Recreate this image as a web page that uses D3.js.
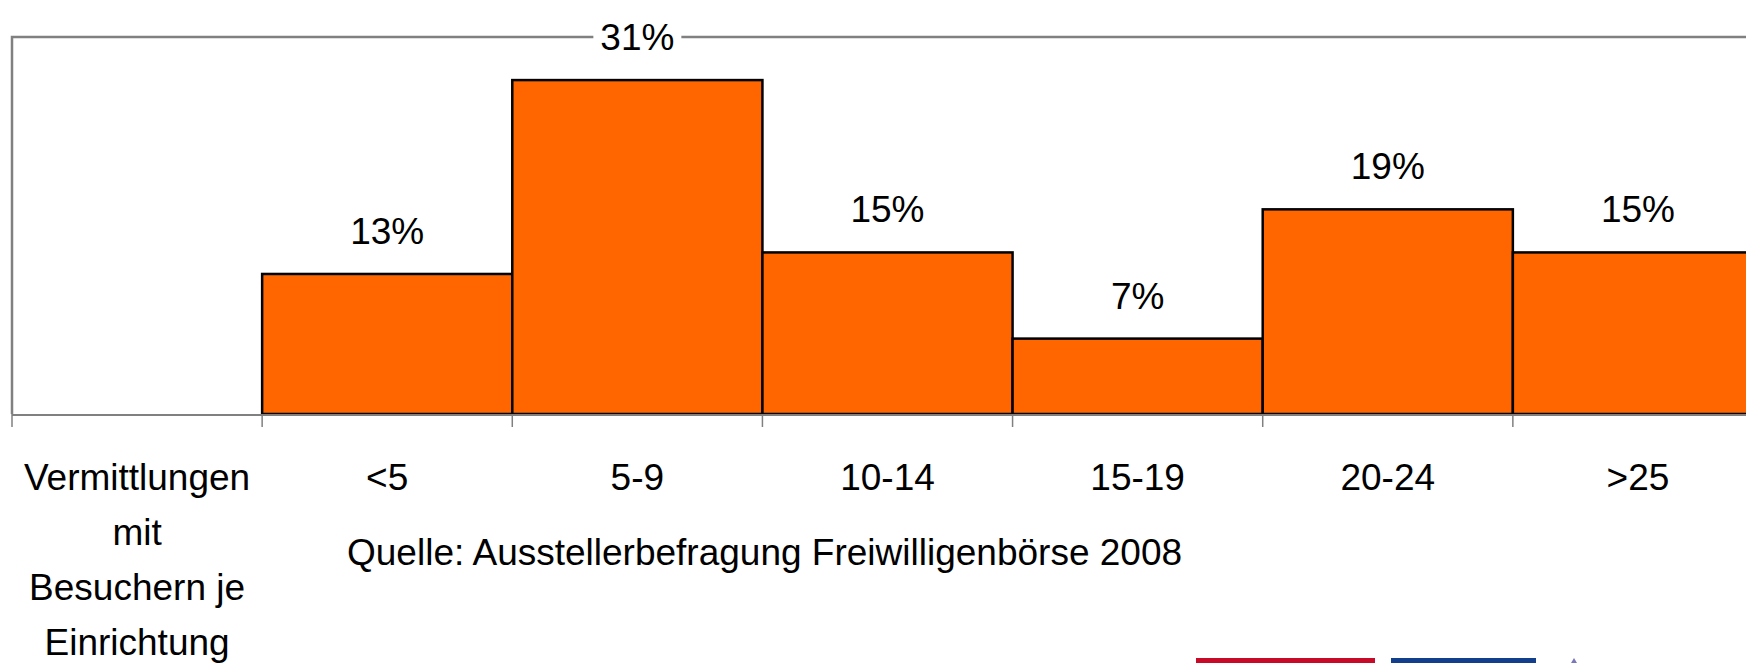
<!DOCTYPE html>
<html>
<head>
<meta charset="utf-8">
<script src="https://cdn.jsdelivr.net/npm/d3@7"></script>
<style>
  body { margin: 0; background: #fff; }
  svg { display: block; }
  text { font-family: "Liberation Sans", Arial, Helvetica, sans-serif; fill: #000; }
</style>
</head>
<body>
<svg id="chart" width="1746" height="663"></svg>
<script>
// data
const categories = ['Vermittlungen\nmit\nBesuchern je\nEinrichtung', '<5', '5-9', '10-14', '15-19', '20-24', '>25'];
const values = [null, 13, 31, 15, 7, 19, 15];
const yMax = 35;
const sourceNote = 'Quelle: Ausstellerbefragung Freiwilligenbörse 2008';

const svg = d3.select('#chart');
const width = 1746, height = 663;
const plotLeft = 12, plotRight = 1763, plotTop = 37, plotBottom = 414;
const fontSize = 37;

const x = d3.scaleBand()
  .domain(categories)
  .range([plotLeft, plotRight])
  .padding(0);

const y = d3.scaleLinear()
  .domain([0, yMax])
  .range([plotBottom, plotTop]);

// plot area frame (top + left)
svg.append('path')
  .attr('d', `M${plotLeft},${plotBottom} V${plotTop} H${width + 20}`)
  .attr('fill', 'none')
  .attr('stroke', '#808080')
  .attr('stroke-width', 2.5);

// bars
const bars = categories.map((c, i) => ({cat: c, v: values[i]})).filter(d => d.v != null);
svg.append('g').selectAll('rect.bar')
  .data(bars)
  .join('rect')
  .attr('class', 'bar')
  .attr('x', d => x(d.cat))
  .attr('y', d => y(d.v))
  .attr('width', x.bandwidth())
  .attr('height', d => y(0) - y(d.v))
  .attr('fill', '#ff6600')
  .attr('stroke', '#000')
  .attr('stroke-width', 2.5);

// x axis line + boundary ticks
svg.append('line')
  .attr('x1', plotLeft).attr('x2', width + 20)
  .attr('y1', plotBottom + 1).attr('y2', plotBottom + 1)
  .attr('stroke', '#808080')
  .attr('stroke-width', 2);

const boundaries = categories.map(c => x(c)).concat([plotRight]);
svg.append('g').selectAll('line.tick')
  .data(boundaries)
  .join('line')
  .attr('class', 'tick')
  .attr('x1', d => d).attr('x2', d => d)
  .attr('y1', plotBottom).attr('y2', plotBottom + 13)
  .attr('stroke', '#808080')
  .attr('stroke-width', 1.5);

// category labels (wrapped on \n)
const catLabels = svg.append('g').selectAll('text.cat')
  .data(categories)
  .join('text')
  .attr('class', 'cat')
  .attr('text-anchor', 'middle')
  .attr('font-size', fontSize)
  .attr('x', d => x(d) + x.bandwidth() / 2)
  .attr('y', 490);
catLabels.selectAll('tspan')
  .data(d => d.split('\n').map(t => ({t, cx: x(d) + x.bandwidth() / 2})))
  .join('tspan')
  .attr('x', d => d.cx)
  .attr('dy', (d, i) => i === 0 ? 0 : 55)
  .text(d => d.t);

// value labels with white box
const valueLabels = svg.append('g').selectAll('g.vlabel')
  .data(bars)
  .join('g')
  .attr('class', 'vlabel')
  .attr('transform', d => `translate(${x(d.cat) + x.bandwidth() / 2},${y(d.v) - 30})`);
valueLabels.append('rect')
  .attr('x', -44).attr('y', -32)
  .attr('width', 88).attr('height', 40)
  .attr('fill', '#fff');
valueLabels.append('text')
  .attr('text-anchor', 'middle')
  .attr('font-size', fontSize)
  .text(d => d.v + '%');

// source note
svg.append('text')
  .attr('x', 347)
  .attr('y', 565)
  .attr('font-size', fontSize)
  .text(sourceNote);

// cut-off logos at bottom right
svg.append('rect').attr('x', 1196).attr('y', 658).attr('width', 179).attr('height', 6).attr('fill', '#c70a28');
svg.append('rect').attr('x', 1391).attr('y', 658).attr('width', 145).attr('height', 6).attr('fill', '#123e8c');
svg.append('path').attr('d', 'M1574,658 l3,5 h-6 z').attr('fill', '#7a78b8');
</script>
</body>
</html>
